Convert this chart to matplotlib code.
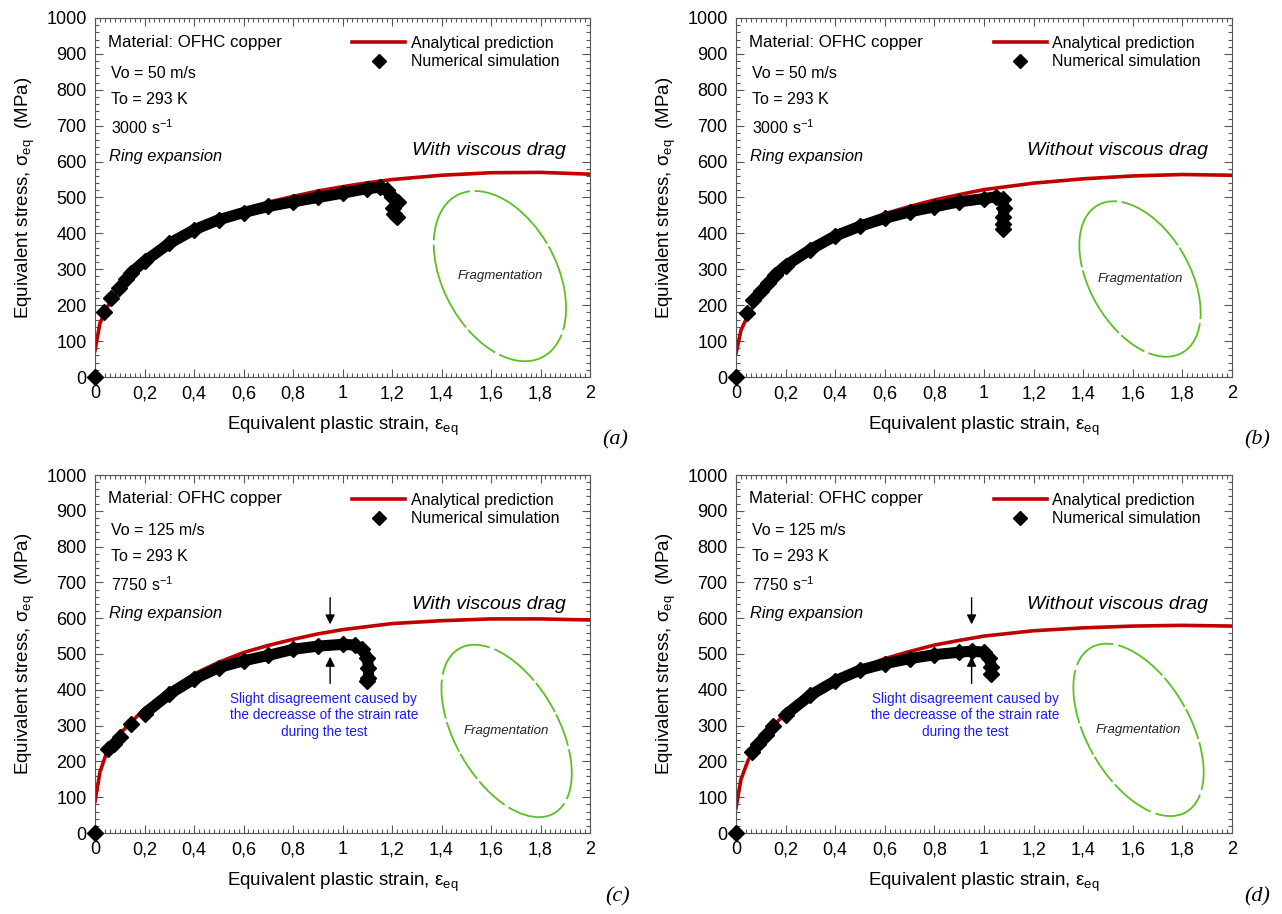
import matplotlib
matplotlib.use("Agg")
import matplotlib.pyplot as plt
from matplotlib.lines import Line2D
from matplotlib.patches import Arc
from matplotlib.ticker import MultipleLocator, FuncFormatter
from matplotlib import transforms

plt.rcParams['font.family'] = ['Liberation Sans', 'DejaVu Sans']
plt.rcParams['mathtext.default'] = 'regular'

# analytical prediction (strain, stress MPa)
ana_a_x = [0, 0.02, 0.05, 0.1, 0.15, 0.2, 0.3, 0.4, 0.5, 0.6, 0.7, 0.8, 0.9, 1.0, 1.1, 1.2, 1.4, 1.6, 1.8, 2.0]
ana_a_y = [74, 150, 195, 250, 290, 322, 375, 415, 445, 468, 487, 503, 518, 530, 541, 550, 562, 569, 570, 565]
ana_b_x = [0, 0.02, 0.05, 0.1, 0.15, 0.2, 0.3, 0.4, 0.5, 0.6, 0.7, 0.8, 0.9, 1.0, 1.2, 1.4, 1.6, 1.8, 2.0]
ana_b_y = [65, 130, 175, 230, 275, 310, 360, 400, 430, 455, 475, 493, 508, 522, 540, 552, 560, 564, 562]
ana_c_x = [0, 0.02, 0.05, 0.1, 0.2, 0.3, 0.4, 0.5, 0.6, 0.7, 0.8, 0.9, 1.0, 1.2, 1.4, 1.6, 1.8, 2.0]
ana_c_y = [88, 170, 231, 277, 347, 400, 444, 477, 504, 524, 541, 556, 568, 585, 593, 598, 598, 595]
ana_d_x = [0, 0.02, 0.05, 0.1, 0.2, 0.3, 0.4, 0.5, 0.6, 0.7, 0.8, 0.9, 1.0, 1.2, 1.4, 1.6, 1.8, 2.0]
ana_d_y = [70, 150, 205, 262, 335, 388, 430, 462, 487, 507, 525, 538, 550, 565, 573, 578, 580, 578]

# numerical simulation (strain, stress MPa)
num_a_x = [0, 0.038, 0.063, 0.096, 0.126, 0.145, 0.2, 0.3, 0.4, 0.5, 0.6, 0.7, 0.8, 0.9, 1.0, 1.1, 1.15, 1.18, 1.2, 1.225, 1.205, 1.21, 1.222]
num_a_y = [0, 182, 221, 249, 272, 290, 322, 372, 410, 438, 458, 475, 488, 500, 512, 525, 528, 520, 500, 488, 470, 455, 447]
num_b_x = [0, 0.044, 0.069, 0.1, 0.13, 0.157, 0.2, 0.3, 0.4, 0.5, 0.6, 0.7, 0.8, 0.9, 1.0, 1.05, 1.075, 1.08, 1.078, 1.076, 1.075]
num_b_y = [0, 178, 214, 240, 262, 284, 310, 355, 393, 420, 442, 460, 474, 488, 497, 502, 495, 470, 445, 425, 412]
num_c_x = [0, 0.053, 0.078, 0.102, 0.144, 0.2, 0.3, 0.4, 0.5, 0.6, 0.7, 0.8, 0.9, 1.0, 1.05, 1.08, 1.1, 1.105, 1.105, 1.1]
num_c_y = [0, 236, 250, 268, 305, 333, 388, 430, 462, 481, 496, 513, 522, 527, 525, 513, 490, 462, 434, 425]
num_d_x = [0, 0.065, 0.09, 0.12, 0.15, 0.2, 0.3, 0.4, 0.5, 0.6, 0.7, 0.8, 0.9, 0.95, 1.0, 1.02, 1.03, 1.03]
num_d_y = [0, 226, 250, 275, 300, 330, 385, 425, 455, 473, 487, 498, 505, 508, 505, 490, 465, 445]

velocities = ['Vo = 50 m/s', 'Vo = 50 m/s', 'Vo = 125 m/s', 'Vo = 125 m/s']
rates = ['3000', '3000', '7750', '7750']
drag_labels = ['With viscous drag', 'Without viscous drag', 'With viscous drag', 'Without viscous drag']
panel_tags = ['(a)', '(b)', '(c)', '(d)']

RED = '#c00000'
GREEN = '#5cbf22'

fig = plt.figure(figsize=(12.82, 9.14), dpi=100)
W, H = 1282, 914
boxes = [(95, 18, 590, 377), (736, 18, 1232, 377), (95, 475, 590, 833), (736, 475, 1232, 833)]
tag_pos = [(615, 440), (1257, 440), (618, 897), (1257, 897)]

# ring sketch: center (data), width/height inches, angle, gap angles
rings = [
    ((1.636, 281), 1.83, 1.14, -62, [20, 95, 170, 215, 300, 330]),
    ((1.629, 273), 1.70, 1.00, -60, [25, 100, 165, 230, 310, 335]),
    ((1.663, 285), 1.90, 1.03, -60, [10, 45, 80, 120, 160, 200, 230, 265, 300, 330]),
    ((1.623, 288), 1.90, 1.03, -60, [15, 50, 85, 125, 165, 195, 235, 270, 305, 340]),
]

ana = [(ana_a_x, ana_a_y), (ana_b_x, ana_b_y), (ana_c_x, ana_c_y), (ana_d_x, ana_d_y)]
num = [(num_a_x, num_a_y), (num_b_x, num_b_y), (num_c_x, num_c_y), (num_d_x, num_d_y)]

comma = FuncFormatter(lambda v, p: ('%g' % v).replace('.', ','))


def draw_ring(ax, center, w, h, ang, gaps):
    tr = fig.dpi_scale_trans + transforms.ScaledTranslation(center[0], center[1], ax.transData)
    g = sorted(gaps)
    for i in range(len(g)):
        t1 = g[i] + 1.5
        t2 = g[(i + 1) % len(g)] - 1.5
        if t2 < t1:
            t2 += 360
        ax.add_patch(Arc((0, 0), w, h, angle=ang, theta1=t1, theta2=t2,
                         transform=tr, color=GREEN, lw=1.3, clip_on=False))
    ax.text(center[0], center[1], 'Fragmentation', style='italic', fontsize=9.5,
            ha='center', va='center', color='#222222')


for i in range(4):
    l, t, r, b = boxes[i]
    ax = fig.add_axes([l / W, 1 - b / H, (r - l) / W, (b - t) / H])
    ax.set_xlim(0, 2)
    ax.set_ylim(0, 1000)

    ax.plot(ana[i][0], ana[i][1], color=RED, lw=2.6, zorder=2)
    nx, ny = num[i]
    ax.plot(nx[5:], ny[5:], color='k', lw=8, solid_joinstyle='round', solid_capstyle='round', zorder=3)
    ax.plot(nx, ny, 'D', color='k', ms=8, zorder=4, clip_on=False)

    ax.xaxis.set_major_locator(MultipleLocator(0.2))
    ax.xaxis.set_minor_locator(MultipleLocator(0.02))
    ax.yaxis.set_major_locator(MultipleLocator(100))
    ax.yaxis.set_minor_locator(MultipleLocator(20))
    ax.xaxis.set_major_formatter(comma)
    ax.tick_params(which='both', direction='in', top=True, right=True, labelsize=13, width=0.8, color='#555555')
    ax.tick_params(which='major', length=6, pad=6)
    ax.tick_params(which='minor', length=3)
    for s in ax.spines.values():
        s.set_linewidth(0.8)
        s.set_color('#555555')

    ax.set_xlabel('Equivalent plastic strain, ε$_{eq}$', fontsize=13.5, labelpad=9)
    ax.set_ylabel('Equivalent stress, σ$_{eq}$  (MPa)', fontsize=13.5, labelpad=7)

    ax.text(0.026, 0.933, 'Material: OFHC copper', transform=ax.transAxes, fontsize=12.2, va='center')
    ax.text(0.032, 0.845, velocities[i], transform=ax.transAxes, fontsize=11.5, va='center')
    ax.text(0.032, 0.772, 'To = 293 K', transform=ax.transAxes, fontsize=11.5, va='center')
    ax.text(0.032, 0.695, rates[i] + ' s$^{-1}$', transform=ax.transAxes, fontsize=11.5, va='center')
    ax.text(0.028, 0.614, 'Ring expansion', transform=ax.transAxes, fontsize=11.8, style='italic', va='center')
    ax.text(0.952, 0.63 if i < 2 else 0.637, drag_labels[i], transform=ax.transAxes,
            fontsize=14, style='italic', ha='right', va='center')

    handles = [Line2D([], [], color=RED, lw=2.6),
               Line2D([], [], color='k', marker='D', ms=7, ls='none')]
    ax.legend(handles, ['Analytical prediction', 'Numerical simulation'], loc='upper left',
              bbox_to_anchor=(0.52, 0.95), frameon=False, fontsize=11.5, handlelength=3.3,
              handletextpad=0.35, labelspacing=0.22, borderpad=0, borderaxespad=0)

    c, w, h, ang, gaps = rings[i]
    draw_ring(ax, c, w, h, ang, gaps)

    if i >= 2:
        ax.annotate('', xy=(0.95, 575), xytext=(0.95, 665),
                    arrowprops=dict(arrowstyle='-|>', color='k', lw=1, mutation_scale=14))
        ax.annotate('', xy=(0.95, 500), xytext=(0.95, 410),
                    arrowprops=dict(arrowstyle='-|>', color='k', lw=1, mutation_scale=14))
        ax.text(0.925, 395, 'Slight disagreement caused by\nthe decreasse of the strain rate\nduring the test',
                color='#1a1aff', fontsize=9.8, ha='center', va='top', linespacing=1.25)

    fig.text(tag_pos[i][0] / W, 1 - tag_pos[i][1] / H, panel_tags[i], family='Liberation Serif',
             style='italic', fontsize=16, ha='center', va='center')

fig.savefig('out.png', dpi=100)
